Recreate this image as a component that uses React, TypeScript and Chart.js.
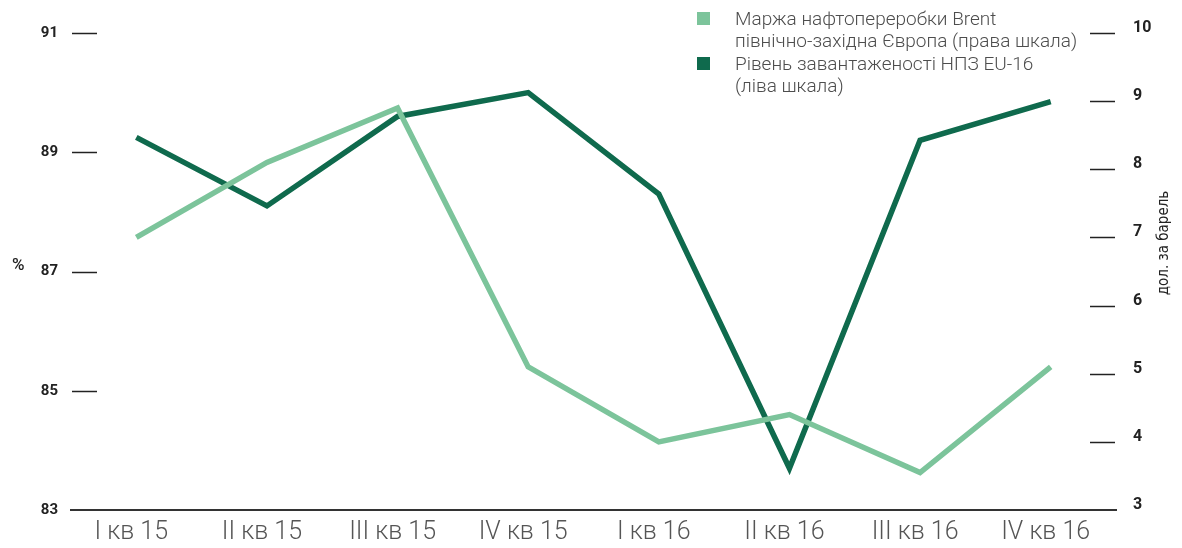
import React, { useEffect, useRef } from "react";
import { Chart, registerables } from "chart.js";

Chart.register(...registerables);

const categories = ["I кв 15", "II кв 15", "III кв 15", "IV кв 15", "I кв 16", "II кв 16", "III кв 16", "IV кв 16"];
const marginValues = [7.0, 8.1, 8.9, 5.1, 4.0, 4.4, 3.55, 5.1];
const utilizationValues = [89.25, 88.1, 89.6, 90.0, 88.3, 83.7, 89.2, 89.85];
const leftTicks = [83, 85, 87, 89, 91];
const rightTicks = [3, 4, 5, 6, 7, 8, 9, 10];
const marginLabel = ["Маржа нафтопереробки Brent", "північно-західна Європа (права шкала)"];
const utilLabel = ["Рівень завантаженості НПЗ EU-16", "(ліва шкала)"];
const leftUnit = "%";
const rightTitle = "дол. за барель";

const LIGHT = "#7cc49b";
const DARK = "#0f6a4d";
const W = 1182;
const H = 548;

const decorPlugin = {
  id: "decor",
  afterDatasetsDraw(chart: any) {
    const { ctx, chartArea, scales } = chart;
    ctx.save();
    ctx.strokeStyle = "#222";
    ctx.lineWidth = 1.5;
    const yl = scales.yLeft;
    yl.ticks.forEach((t: any) => {
      if (t.value === yl.min) return;
      const y = Math.round(yl.getPixelForValue(t.value)) + 0.5;
      ctx.beginPath();
      ctx.moveTo(chartArea.left + 1, y);
      ctx.lineTo(chartArea.left + 26, y);
      ctx.stroke();
    });
    const yr = scales.yRight;
    yr.ticks.forEach((t: any) => {
      if (t.value === yr.min) return;
      const y = Math.round(yr.getPixelForValue(t.value)) + 0.5;
      ctx.beginPath();
      ctx.moveTo(chartArea.right - 26, y);
      ctx.lineTo(chartArea.right - 1, y);
      ctx.stroke();
    });

    // left unit
    ctx.fillStyle = "#222";
    ctx.font = "500 17px Roboto";
    ctx.textAlign = "left";
    ctx.textBaseline = "middle";
    ctx.fillText(leftUnit, 12, yl.getPixelForValue(87) - 6);

    // right title
    ctx.save();
    ctx.translate(1164, 243);
    ctx.rotate(-Math.PI / 2);
    ctx.textAlign = "center";
    ctx.textBaseline = "middle";
    ctx.font = "15px 'DejaVu Sans Condensed'";
    ctx.fillStyle = "#222";
    ctx.fillText(rightTitle, 0, 0);
    ctx.restore();

    // legend
    const ds = chart.data.datasets;
    const lineH = 22.5;
    let y = 20;
    ctx.font = "300 19px Roboto";
    ctx.textAlign = "left";
    ctx.textBaseline = "middle";
    ds.forEach((d: any) => {
      const lines: string[] = Array.isArray(d.label) ? d.label : [d.label];
      ctx.fillStyle = d.borderColor;
      ctx.fillRect(697, y - 8, 13, 13);
      ctx.fillStyle = "#4d4d4d";
      lines.forEach((ln, i) => {
        ctx.fillText(ln, 735, y + i * lineH);
      });
      y += lines.length * lineH;
    });
    ctx.restore();
  },
};

export default function App() {
  const ref = useRef<HTMLCanvasElement | null>(null);
  useEffect(() => {
    document.body.style.margin = "0";
    const canvas = ref.current!;
    const chart = new Chart(canvas, {
      type: "line",
      data: {
        labels: categories,
        datasets: [
          {
            label: marginLabel as any,
            data: marginValues,
            yAxisID: "yRight",
            borderColor: LIGHT,
            backgroundColor: LIGHT,
            borderWidth: 5.5,
            pointRadius: 0,
            tension: 0,
            borderJoinStyle: "miter",
          },
          {
            label: utilLabel as any,
            data: utilizationValues,
            yAxisID: "yLeft",
            borderColor: DARK,
            backgroundColor: DARK,
            borderWidth: 5.5,
            pointRadius: 0,
            tension: 0,
            borderJoinStyle: "miter",
          },
        ],
      },
      options: {
        responsive: false,
        animation: false,
        layout: { padding: { top: 33, left: 0, right: 0, bottom: 0 } },
        plugins: { legend: { display: false }, tooltip: { enabled: false } },
        scales: {
          x: {
            type: "category",
            offset: true,
            grid: { display: false, drawTicks: false },
            border: { display: true, color: "#333", width: 2 },
            ticks: {
              color: "#555",
              font: { family: "Roboto", size: 25, weight: "300" },
              padding: 8,
              labelOffset: -5,
              maxRotation: 0,
              autoSkip: false,
            },
            afterFit: (s: any) => {
              s.height = H - 510;
            },
          },
          yLeft: {
            position: "left",
            min: 83,
            max: 91,
            grid: { display: false, drawTicks: false },
            border: { display: false },
            ticks: {
              color: "#222",
              font: { family: "Roboto", size: 15, weight: "bold" },
              padding: 13,
            },
            afterBuildTicks: (s: any) => {
              s.ticks = leftTicks.map((v) => ({ value: v }));
            },
            afterFit: (s: any) => {
              s.width = 71;
            },
          },
          yRight: {
            position: "right",
            min: 3,
            max: 10,
            grid: { display: false, drawTicks: false },
            border: { display: false },
            ticks: {
              color: "#222",
              font: { family: "Roboto", size: 16, weight: "bold" },
              padding: 17,
              labelOffset: -5,
            },
            afterBuildTicks: (s: any) => {
              s.ticks = rightTicks.map((v) => ({ value: v }));
            },
            afterFit: (s: any) => {
              s.width = W - 1116;
            },
          },
        },
      } as any,
      plugins: [decorPlugin],
    });
    return () => chart.destroy();
  }, []);
  return (
    <div style={{ width: W, height: H, background: "#fff" }}>
      <canvas ref={ref} width={W} height={H} style={{ display: "block" }} />
    </div>
  );
}
